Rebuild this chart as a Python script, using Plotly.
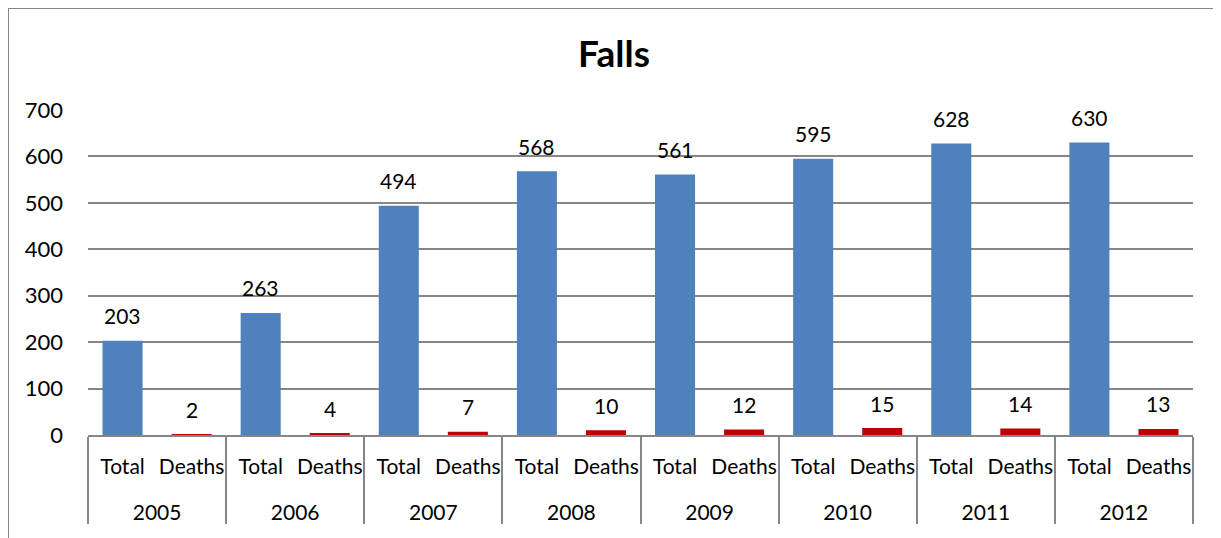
import plotly.graph_objects as go

years = ["2005", "2006", "2007", "2008", "2009", "2010", "2011", "2012"]
measures = ["Total", "Deaths"]
total = [203, 263, 494, 568, 561, 595, 628, 630]
deaths = [2, 4, 7, 10, 12, 15, 14, 13]

colors = {"Total": "#4F81BD", "Deaths": "#C00000"}

pos, labels, ys, cs = [], [], [], []
for i, yr in enumerate(years):
    for j, (m, v) in enumerate((("Total", total[i]), ("Deaths", deaths[i]))):
        pos.append(2 * i + j)
        labels.append(m)
        ys.append(v)
        cs.append(colors[m])
year_pos = [2 * i + 0.5 for i in range(len(years))]
bounds = [2 * i - 0.5 for i in range(len(years) + 1)]

FONT = "Lato, 'Open Sans', sans-serif"
GRAY = "#868686"

fig = go.Figure()
fig.add_trace(go.Bar(
    x=pos, y=ys,
    marker=dict(color=cs, line=dict(width=0)),
    showlegend=False, hoverinfo="y",
))
# invisible helper trace so the year axis is drawn
fig.add_trace(go.Scatter(
    x=year_pos, y=[0] * len(years), xaxis="x2", yaxis="y", mode="markers",
    marker=dict(opacity=0, size=1), showlegend=False, hoverinfo="skip",
))

W, H = 1213, 530
L, R, T, B = 80, 28, 102, 103
pw, ph = W - L - R, H - T - B

annotations = [dict(x=p, y=v, xref="x", yref="y", text=str(v), showarrow=False,
                    yanchor="middle", yshift=25, font=dict(size=21, family=FONT, color="#000000"))
               for p, v in zip(pos, ys)]

fig.update_layout(
    width=W, height=H,
    margin=dict(l=L, r=R, t=T, b=B),
    paper_bgcolor="white", plot_bgcolor="white",
    bargap=0.42,
    font=dict(family=FONT, size=21, color="#000000"),
    title=dict(text="<b>Falls</b>", x=(614 - 8) / W, xanchor="center", y=1 - 46 / H, yanchor="middle",
               font=dict(size=37, family=FONT, color="#000000")),
    xaxis=dict(range=[-0.5, 2 * len(years) - 0.5], tickvals=pos, ticktext=labels,
               showgrid=False, showline=True, linecolor=GRAY, linewidth=2, zeroline=False,
               ticks="", ticklabelstandoff=12, tickfont=dict(size=21, family=FONT),
               minor=dict(tickvals=bounds, ticks="outside", ticklen=87, tickcolor=GRAY, tickwidth=2,
                          showgrid=False)),
    xaxis2=dict(overlaying="x", anchor="y", side="bottom", range=[-0.5, 2 * len(years) - 0.5],
                tickvals=year_pos, ticktext=years, showgrid=False, showline=False, zeroline=False,
                ticks="", ticklabelstandoff=63, tickfont=dict(size=21, family=FONT)),
    yaxis=dict(range=[0, 700], dtick=100, showgrid=True, gridcolor=GRAY, gridwidth=2,
               zeroline=False, showline=False, ticks="", tickfont=dict(size=22, family=FONT),
               ticklabelstandoff=24),
    annotations=annotations,
    shapes=[dict(type="line", xref="paper", yref="paper",
                 x0=(0 - L) / pw, x1=(W + 5 - L) / pw, y0=1 + (T - 0) / ph, y1=1 + (T - 0) / ph,
                 line=dict(color=GRAY, width=2)),
            dict(type="line", xref="paper", yref="paper",
                 x0=(0 - L) / pw, x1=(0 - L) / pw, y0=1 + (T - 0) / ph, y1=-(B + 5) / ph,
                 line=dict(color=GRAY, width=2))],
)

fig.write_html("out.html")
